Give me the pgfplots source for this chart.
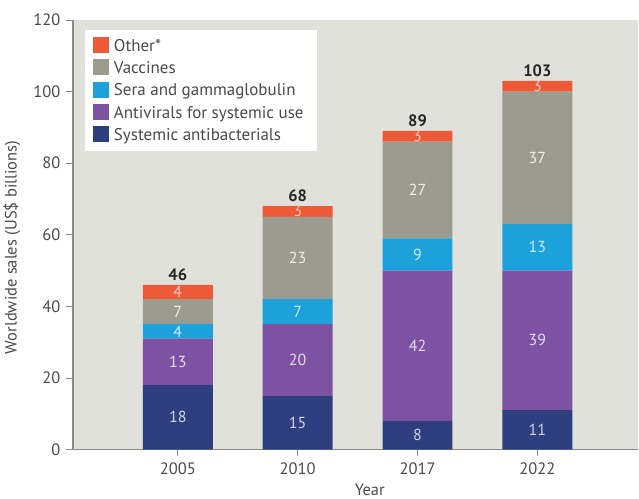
\documentclass[border=0pt]{standalone}
\usepackage{pgfplots}
\pgfplotsset{compat=1.18}
\usepackage{fontspec}
\setmainfont{PT Sans}
\definecolor{cOther}{HTML}{EE5A38}
\definecolor{cVac}{HTML}{9B9C8F}
\definecolor{cSera}{HTML}{1DA1DB}
\definecolor{cAntiv}{HTML}{7D52A3}
\definecolor{cAntib}{HTML}{2F3E7F}
\definecolor{cBg}{HTML}{E1E1DC}
\definecolor{cTxt}{HTML}{4A4A4A}
\definecolor{cAx}{HTML}{8A8A85}
\begin{document}
\begin{tikzpicture}
\pgfplotsset{
  common/.style={
    scale only axis, width=566pt, height=430pt,
    xmin=-0.875, xmax=3.842, ymin=0, ymax=120,
  },
  seglab/.style={draw=none, mark=none, nodes near coords, point meta=explicit symbolic,
    every node near coord/.style={anchor=center, font=\fontsize{16}{18}\selectfont, text=#1}},
}
\begin{axis}[common,
  ybar stacked, bar width=70pt,
  axis background/.style={fill=cBg},
  axis x line*=bottom, axis y line*=left,
  axis line style={cAx, line width=1.4pt},
  tick style={cAx, line width=0.8pt},
  tick align=outside, major tick length=7pt,
  xtick={0,1,2,3}, xticklabels={2005,2010,2017,2022},
  ytick={0,20,...,120},
  /pgf/number format/assume math mode=true,
  ticklabel style={font=\fontsize{16.5}{18}\selectfont, text=cTxt},
  xticklabel style={yshift=-3pt},
  yticklabel style={xshift=-2pt},
  ylabel={Worldwide sales (US\$ billions)},
  xlabel={Year},
  every axis y label/.style={at={(axis description cs:-0.108,0.47)}, rotate=90, anchor=center, font=\fontsize{16.5}{18}\selectfont, text=cTxt},
  every axis x label/.style={at={(axis description cs:0.525,-0.093)}, anchor=center, font=\fontsize{16.5}{18}\selectfont, text=cTxt},
  reverse legend,
  legend style={at={(axis description cs:0.021,0.977)}, anchor=north west, draw=none, fill=white,
    font=\fontsize{17}{19}\selectfont, text=cTxt, inner xsep=8pt, inner ysep=7pt, row sep=4.5pt,
    legend cell align=left, nodes={inner xsep=5pt}},
  legend image code/.code={\fill[#1] (0pt,-7pt) rectangle (16pt,9pt);},
]
\addplot[fill=cAntib, draw=none] coordinates {(0,18) (1,15) (2,8) (3,11)};
\addplot[fill=cAntiv, draw=none] coordinates {(0,13) (1,20) (2,42) (3,39)};
\addplot[fill=cSera, draw=none] coordinates {(0,4) (1,7) (2,9) (3,13)};
\addplot[fill=cVac, draw=none] coordinates {(0,7) (1,23) (2,27) (3,37)};
\addplot[fill=cOther, draw=none] coordinates {(0,4) (1,3) (2,3) (3,3)};
\legend{Systemic antibacterials, Antivirals for systemic use, Sera and gammaglobulin, Vaccines, Other*}
\end{axis}
\begin{axis}[common, hide axis]
\addplot[seglab=white!78!cAntib] table[meta=lab] {
x y lab
0 9 18
1 7.5 15
2 4 8
3 5.5 11
};
\addplot[seglab=white!80!cAntiv] table[meta=lab] {
x y lab
0 24.5 13
1 25 20
2 29 42
3 30.5 39
};
\addplot[seglab=white!80!cSera] table[meta=lab] {
x y lab
0 33 4
1 38.5 7
2 54.5 9
3 56.5 13
};
\addplot[seglab=white!85!cVac] table[meta=lab] {
x y lab
0 38.5 7
1 53.5 23
2 72.5 27
3 81.5 37
};
\addplot[seglab=white!70!cOther] table[meta=lab] {
x y lab
0 44 4
1 66.5 3
2 87.5 3
3 101.5 3
};
\addplot[draw=none, mark=none, nodes near coords, point meta=explicit symbolic,
  every node near coord/.style={anchor=south, yshift=1pt, font=\bfseries\fontsize{16.5}{18}\selectfont, text=black!85}]
  table[meta=lab] {
x y lab
0 46 46
1 68 68
2 89 89
3 103 103
};
\end{axis}
\path[use as bounding box] (-73pt,-49pt) rectangle (566pt,450pt);
\end{tikzpicture}
\end{document}
